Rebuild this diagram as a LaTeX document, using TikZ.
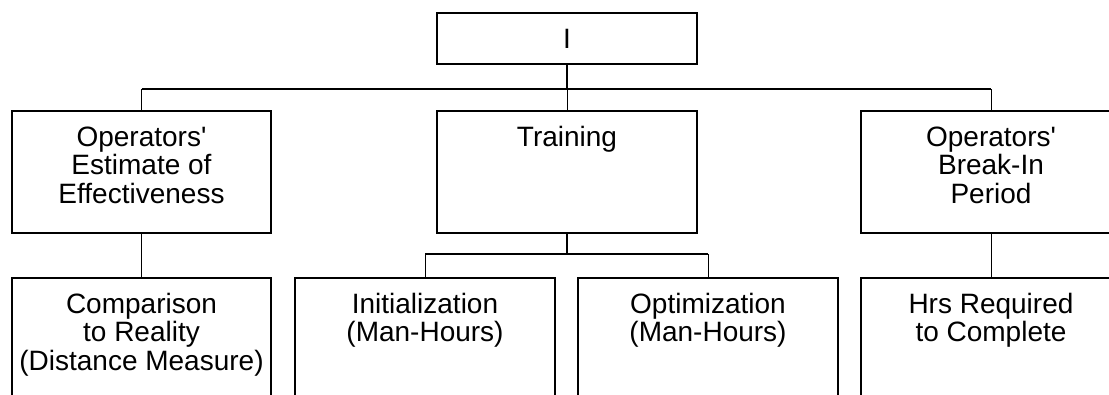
\documentclass[tikz,border=0pt]{standalone}
\usepackage{fontspec}
\setmainfont{Liberation Sans}
\newcommand\lns[1]{\begin{tabular}[t]{@{}c@{}}#1\end{tabular}}
\newcommand\apos{\XeTeXglyph\XeTeXcharglyph"27\relax}
\begin{document}
\begin{tikzpicture}[x=1pt,y=-1pt,
  box/.style={draw,line width=2pt,inner sep=0pt,minimum width=260pt,minimum height=122pt},
  lbl/.style={anchor=base,inner sep=0pt,font=\fontsize{28}{28}\selectfont},
  thickline/.style={line width=2pt},
  midline/.style={line width=1.4pt},
  thinline/.style={line width=1pt}]
\useasboundingbox (0,0) rectangle (1109,394);
\clip (0,0) rectangle (1109,394);
% boxes
\node[box,minimum height=51pt] (top) at (567,38.5) {};
\node[box,minimum width=259pt] (a) at (141.5,172) {};
\node[box] (b) at (567,172) {};
\node[box] (c) at (991,172) {};
\node[box,minimum width=259pt,minimum height=130pt] (d) at (141.5,343) {};
\node[box,minimum height=130pt] (e) at (425,343) {};
\node[box,minimum height=130pt] (f) at (708,343) {};
\node[box,minimum height=130pt] (g) at (991,343) {};
% texts
\node[lbl] (ttop) at (567,48) {I};
\node[lbl] (ta) at (141.5,146) {\lns{Operators\apos\\Estimate of\\Effectiveness}};
\node[lbl] (tb) at (567,146) {Training};
\node[lbl] (tc) at (991,146) {\lns{Operators\apos\\Break-In\\Period}};
\node[lbl] (td) at (141.5,313) {\lns{Comparison\\to Reality\\(Distance Measure)}};
\node[lbl] (te) at (425,313) {\lns{Initialization\\(Man-Hours)}};
\node[lbl] (tf) at (708,313) {\lns{Optimization\\(Man-Hours)}};
\node[lbl] (tg) at (991,313) {\lns{Hrs Required\\to Complete}};
% connectors
\coordinate (bus) at (567,89);
\coordinate (busL) at (a.north |- bus);
\coordinate (busR) at (c.north |- bus);
\draw[thickline] (top.south) -- (bus);
\draw[thickline] (busL) -- (busR);
\draw[thinline] (busL) -- (a.north);
\draw[thinline] (bus) -- (b.north);
\draw[thinline] (busR) -- (c.north);
\coordinate (tbus) at (567,254);
\coordinate (tbusL) at (e.north |- tbus);
\coordinate (tbusR) at (f.north |- tbus);
\draw[thickline] (b.south) -- (tbus);
\draw[midline] (tbusL) -- (tbusR);
\draw[thinline] (tbusL) -- (e.north);
\draw[thinline] (tbusR) -- (f.north);
\draw[thinline] (a.south) -- (d.north);
\draw[thinline] (c.south) -- (g.north);
\end{tikzpicture}
\end{document}
